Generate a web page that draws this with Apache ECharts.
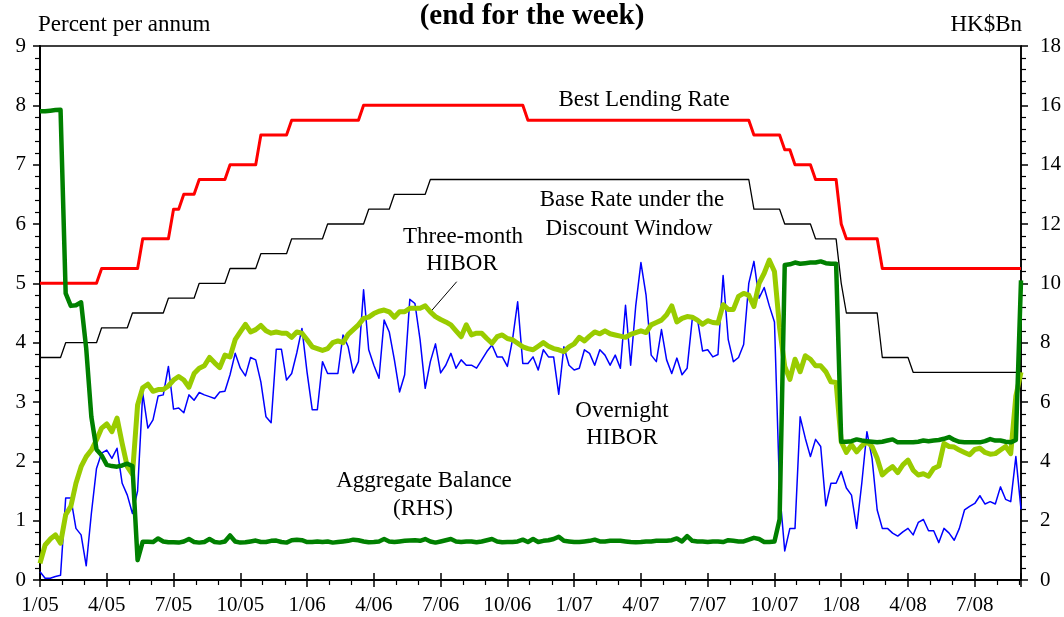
<!DOCTYPE html>
<html><head><meta charset="utf-8">
<script src="https://cdn.jsdelivr.net/npm/echarts@6/dist/echarts.min.js"></script>
<style>html,body{margin:0;padding:0;background:#fff}#c{width:1064px;height:617px}</style>
</head><body><div id="c"></div>
<script>
// ---- data ----
const tickLabels = ['1/05','4/05','7/05','10/05','1/06','4/06','7/06','10/06','1/07','4/07','7/07','10/07','1/08','4/08','7/08'];
const monthsPerWeek = 12 / 52;   // weekly observations, x axis in months from 1/05

// step series: week index at which a new level first appears, and that level
const blrStartWeek = [0,12,20,26,28,31,37,43,49,63,95,139,145,147,151,156,157,164];
const blrLevel     = [5.0,5.25,5.75,6.25,6.5,6.75,7.0,7.5,7.75,8.0,7.75,7.5,7.25,7.0,6.75,6.0,5.75,5.25];
const baseStartWeek = [0,5,12,18,25,31,37,43,49,56,64,69,76,139,145,151,156,157,164,170];
const baseLevel     = [3.75,4.0,4.25,4.5,4.75,5.0,5.25,5.5,5.75,6.0,6.25,6.5,6.75,6.25,6.0,5.75,5.0,4.5,3.75,3.5];

const overnightHibor = [
0.14,0.03,0.03,0.06,0.08,1.38,1.38,0.87,0.76,0.24,
1.12,1.88,2.14,2.19,2.05,2.22,1.63,1.43,1.12,1.5,
3.15,2.56,2.7,3.1,3.12,3.6,2.88,2.9,2.82,3.12,
3.03,3.16,3.12,3.09,3.06,3.17,3.18,3.46,3.82,3.57,
3.44,3.75,3.71,3.34,2.75,2.65,3.89,3.89,3.37,3.48,
3.83,4.24,3.5,2.87,2.87,3.68,3.48,3.48,3.48,4.13,
3.93,3.49,3.68,4.89,3.88,3.62,3.4,4.38,4.18,3.71,
3.17,3.46,4.73,4.66,4.05,3.23,3.68,3.98,3.49,3.62,
3.82,3.57,3.71,3.62,3.62,3.57,3.71,3.85,3.96,3.76,
3.76,3.6,4.05,4.69,3.65,3.65,3.76,3.54,3.88,3.76,
3.76,3.13,3.93,3.62,3.54,3.57,3.88,3.82,3.62,3.88,
3.79,3.62,3.79,3.57,4.63,3.62,4.63,5.35,4.8,3.79,
3.68,4.22,3.71,3.48,3.74,3.46,3.57,4.4,4.4,3.86,
3.88,3.76,3.8,5.13,4.05,3.68,3.75,3.97,5.0,5.37,
4.75,4.93,4.62,4.35,1.5,0.49,0.87,0.87,2.75,2.39,
2.08,2.37,2.25,1.25,1.63,1.63,1.83,1.55,1.43,0.87,
1.63,2.5,2.05,1.18,0.87,0.87,0.79,0.74,0.81,0.87,
0.76,0.97,1.02,0.83,0.83,0.63,0.87,0.79,0.67,0.87,
1.18,1.24,1.29,1.42,1.28,1.32,1.28,1.57,1.36,1.32,
2.08,1.19
];

const threeMonthHibor = [
0.28,0.59,0.69,0.76,0.62,1.1,1.24,1.63,1.91,2.08,
2.19,2.36,2.56,2.63,2.5,2.73,2.3,1.91,1.78,2.95,
3.24,3.3,3.18,3.21,3.21,3.27,3.37,3.43,3.37,3.25,
3.48,3.57,3.61,3.75,3.66,3.58,3.79,3.76,4.05,4.18,
4.31,4.18,4.22,4.29,4.2,4.16,4.18,4.16,4.16,4.09,
4.18,4.16,4.05,3.93,3.9,3.87,3.9,4.0,4.03,4.0,
4.14,4.22,4.3,4.41,4.43,4.49,4.53,4.55,4.52,4.43,
4.52,4.52,4.58,4.58,4.58,4.62,4.52,4.44,4.39,4.35,
4.3,4.2,4.1,4.3,4.13,4.16,4.16,4.07,3.99,4.1,
4.13,4.07,4.05,3.99,3.93,3.9,3.88,3.94,4.0,3.94,
3.9,3.88,3.85,3.93,3.98,4.09,4.03,4.11,4.18,4.15,
4.2,4.15,4.13,4.11,4.09,4.14,4.17,4.2,4.17,4.3,
4.34,4.38,4.47,4.62,4.35,4.41,4.44,4.43,4.38,4.31,
4.37,4.34,4.33,4.64,4.56,4.56,4.78,4.83,4.8,4.61,
5.0,5.17,5.39,5.2,4.25,3.6,3.38,3.72,3.51,3.78,
3.72,3.61,3.61,3.51,3.34,3.33,2.33,2.15,2.28,2.16,
2.26,2.33,2.25,2.05,1.77,1.85,1.91,1.81,1.94,2.02,
1.85,1.77,1.79,1.75,1.88,1.92,2.3,2.25,2.24,2.19,
2.15,2.11,2.2,2.22,2.15,2.12,2.13,2.19,2.25,2.13,
3.1,3.5
];

const aggregateBalance = [
15.8,15.8,15.82,15.84,15.85,9.66,9.24,9.26,9.36,7.8,
5.5,4.4,4.2,3.88,3.84,3.82,3.86,3.92,3.84,0.67,
1.29,1.29,1.28,1.4,1.3,1.27,1.27,1.26,1.3,1.38,
1.28,1.26,1.28,1.38,1.28,1.26,1.3,1.5,1.3,1.26,
1.27,1.3,1.33,1.28,1.28,1.32,1.33,1.28,1.26,1.34,
1.36,1.34,1.28,1.28,1.3,1.28,1.3,1.26,1.28,1.3,
1.32,1.36,1.34,1.3,1.27,1.28,1.3,1.38,1.3,1.28,
1.3,1.32,1.33,1.34,1.32,1.38,1.3,1.26,1.3,1.34,
1.38,1.3,1.28,1.3,1.3,1.27,1.3,1.34,1.38,1.3,
1.27,1.28,1.28,1.3,1.36,1.28,1.38,1.28,1.32,1.34,
1.38,1.46,1.32,1.3,1.28,1.28,1.3,1.32,1.36,1.3,
1.3,1.32,1.32,1.32,1.3,1.28,1.27,1.28,1.3,1.3,
1.32,1.32,1.32,1.34,1.4,1.3,1.48,1.32,1.3,1.3,
1.28,1.3,1.3,1.28,1.34,1.32,1.3,1.3,1.36,1.42,
1.38,1.28,1.28,1.3,2.05,10.62,10.64,10.7,10.66,10.68,
10.7,10.7,10.74,10.68,10.66,10.66,4.66,4.66,4.68,4.74,
4.7,4.68,4.66,4.64,4.66,4.7,4.74,4.64,4.64,4.64,
4.64,4.66,4.7,4.68,4.7,4.72,4.76,4.82,4.72,4.66,
4.64,4.64,4.64,4.64,4.68,4.75,4.7,4.7,4.66,4.64,
4.72,10.1
];

// ---- build ----
const N = overnightHibor.length;
function stepSeries(starts, levels, n) {
  const out = []; let k = 0;
  for (let i = 0; i < n; i++) {
    while (k + 1 < starts.length && starts[k + 1] <= i) k++;
    out.push(levels[k]);
  }
  return out;
}
const toXY = arr => arr.map((v, i) => [i * monthsPerWeek, v]);
const xMax = (N - 1) * monthsPerWeek;
const FONT = '"Liberation Serif","Times New Roman",serif';

const chart = echarts.init(document.getElementById('c'), null, {renderer: 'canvas'});

function lineSeries(name, data, color, width, yIdx) {
  return {name, type: 'line', data: toXY(data), yAxisIndex: yIdx || 0, symbol: 'none',
    showSymbol: false, lineStyle: {color, width, join: 'round'}, itemStyle: {color}, z: 2, silent: true};
}

function txt(text, x, y, size, bold, align) {
  return {type: 'text', x, y, silent: true, style: {text, fill: '#000',
    font: (bold ? 'bold ' : '') + size + 'px ' + FONT,
    align: align || 'center', textAlign: align || 'center',
    verticalAlign: 'middle', textVerticalAlign: 'middle'}};
}

const axisLabelBase = {color: '#000', fontSize: 21, fontFamily: FONT};

chart.setOption({
  animation: false,
  backgroundColor: '#fff',
  grid: {left: 40, right: 42, top: 46, bottom: 37, show: true, borderColor: '#000', borderWidth: 1.5, backgroundColor: 'transparent'},
  xAxis: [{
    type: 'value', min: 0, max: xMax, interval: 3,
    axisLine: {show: true, onZero: false, lineStyle: {color: '#000', width: 2}},
    axisTick: {show: true, length: 7, lineStyle: {color: '#000', width: 1.5}},
    minorTick: {show: true, splitNumber: 3, length: 5, lineStyle: {color: '#000', width: 1.2}},
    splitLine: {show: false}, minorSplitLine: {show: false},
    axisLabel: Object.assign({}, axisLabelBase, {margin: 15, showMaxLabel: false,
      formatter: v => { const k = Math.round(v / 3); return Math.abs(v - k * 3) < 1e-6 && tickLabels[k] ? tickLabels[k] : ''; }})
  }, {
    type: 'value', min: 0, max: xMax, interval: 3, position: 'bottom',
    axisLine: {show: false}, axisLabel: {show: false}, splitLine: {show: false},
    axisTick: {show: true, inside: true, length: 7, lineStyle: {color: '#000', width: 1.5}}
  }],
  yAxis: [{
    type: 'value', min: 0, max: 9, interval: 1, position: 'left',
    axisLine: {show: true, onZero: false, lineStyle: {color: '#000', width: 2}},
    axisTick: {show: true, length: 7, lineStyle: {color: '#000', width: 1.5}},
    minorTick: {show: true, splitNumber: 5, length: 5, lineStyle: {color: '#000', width: 1.2}},
    splitLine: {show: false}, minorSplitLine: {show: false},
    axisLabel: Object.assign({}, axisLabelBase, {margin: 14})
  }, {
    type: 'value', min: 0, max: 18, interval: 2, position: 'right',
    axisLine: {show: true, onZero: false, lineStyle: {color: '#000', width: 1.5}},
    axisTick: {show: true, length: 7, lineStyle: {color: '#000', width: 1.5}},
    minorTick: {show: true, splitNumber: 5, length: 5, lineStyle: {color: '#000', width: 1.2}},
    splitLine: {show: false}, minorSplitLine: {show: false},
    axisLabel: Object.assign({}, axisLabelBase, {margin: 19})
  }],
  series: [
    lineSeries('Overnight HIBOR', overnightHibor, '#0000ff', 1.5),
    lineSeries('Base Rate under the Discount Window', stepSeries(baseStartWeek, baseLevel, N), '#000000', 1.3),
    lineSeries('Best Lending Rate', stepSeries(blrStartWeek, blrLevel, N), '#ff0000', 3),
    lineSeries('Three-month HIBOR', threeMonthHibor, '#99cc00', 5),
    lineSeries('Aggregate Balance (RHS)', aggregateBalance, '#008000', 4.5, 1)
  ],
  graphic: [
    txt('(end for the week)', 532, 17, 29, true),
    txt('Percent per annum', 38, 25, 23, false, 'left'),
    txt('HK$Bn', 1022, 25, 23, false, 'right'),
    txt('Best Lending Rate', 644, 100, 23),
    txt('Base Rate under the', 632, 200, 23),
    txt('Discount Window', 629, 229, 23),
    txt('Three-month', 463, 237, 23),
    txt('HIBOR', 462, 264, 23),
    txt('Overnight', 622, 411, 23),
    txt('HIBOR', 622, 438, 23),
    txt('Aggregate Balance', 424, 481, 23),
    txt('(RHS)', 423, 509, 23),
    {type: 'line', silent: true, shape: {x1: 456.7, y1: 281.7, x2: 430.7, y2: 311.7}, style: {stroke: '#000', lineWidth: 1}}
  ]
});
</script>
</body></html>
